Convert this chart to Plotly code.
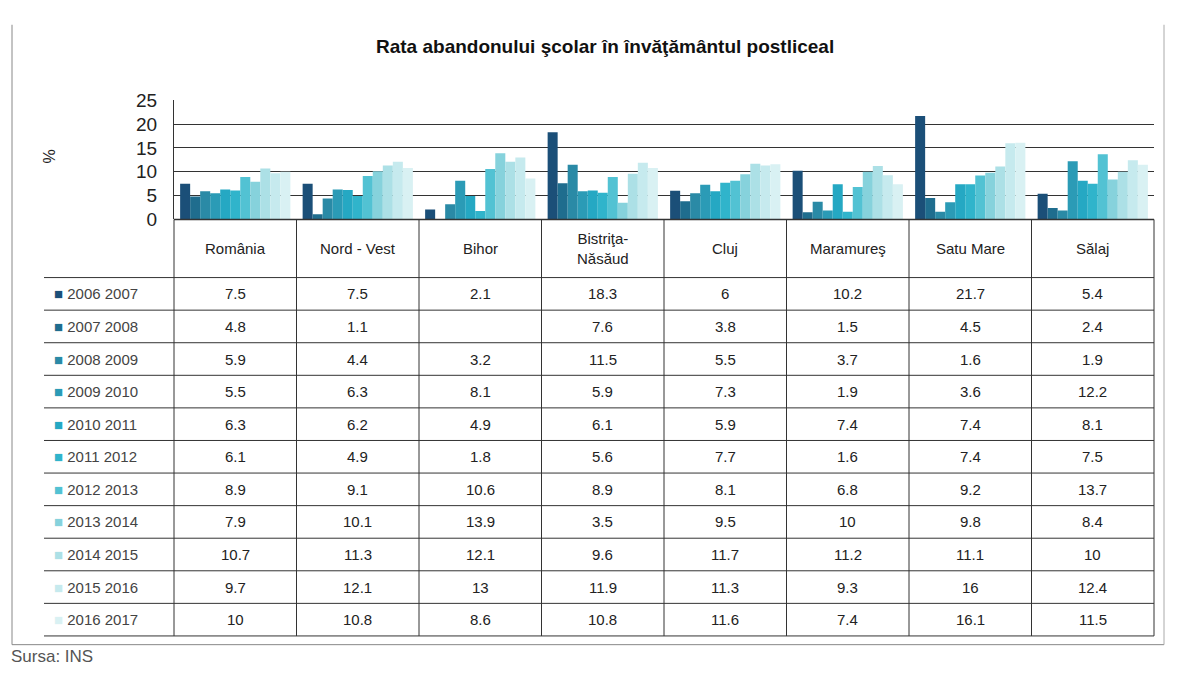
import plotly.graph_objects as go

categories = ["România", "Nord - Vest", "Bihor", "Bistriţa-<br>Năsăud", "Cluj",
              "Maramureş", "Satu Mare", "Sălaj"]
series_names = ["2006 2007", "2007 2008", "2008 2009", "2009 2010", "2010 2011",
                "2011 2012", "2012 2013", "2013 2014", "2014 2015", "2015 2016", "2016 2017"]
values = [
    [7.5, 7.5, 2.1, 18.3, 6, 10.2, 21.7, 5.4],
    [4.8, 1.1, None, 7.6, 3.8, 1.5, 4.5, 2.4],
    [5.9, 4.4, 3.2, 11.5, 5.5, 3.7, 1.6, 1.9],
    [5.5, 6.3, 8.1, 5.9, 7.3, 1.9, 3.6, 12.2],
    [6.3, 6.2, 4.9, 6.1, 5.9, 7.4, 7.4, 8.1],
    [6.1, 4.9, 1.8, 5.6, 7.7, 1.6, 7.4, 7.5],
    [8.9, 9.1, 10.6, 8.9, 8.1, 6.8, 9.2, 13.7],
    [7.9, 10.1, 13.9, 3.5, 9.5, 10, 9.8, 8.4],
    [10.7, 11.3, 12.1, 9.6, 11.7, 11.2, 11.1, 10],
    [9.7, 12.1, 13, 11.9, 11.3, 9.3, 16, 12.4],
    [10, 10.8, 8.6, 10.8, 11.6, 7.4, 16.1, 11.5],
]
colors = ["#1b4f78", "#1f6d8e", "#2a8aa6", "#2b9bb6", "#25a8c3", "#30b4cb",
          "#52c2d3", "#86d2dc", "#ace0e6", "#c6eaee", "#d9f1f3"]
y_ticks = [0, 5, 10, 15, 20, 25]

# The page adds an 8px body margin; size the figure so it fits the window exactly.
OFF = 8
W, H = 1178 - 2 * OFF, 684 - 2 * OFF

# layout geometry in window pixels
PLOT_L, PLOT_R = 174, 1154
PLOT_T, PLOT_B = 93, 216
ROW_T, ROW_B = 276, 646
LABEL_L = 44


def px(x):
    return (x - OFF) / W


def py(y):
    return 1 - (y - OFF) / H


fig = go.Figure()
xs = list(range(len(categories)))
for name, vals, col in zip(series_names, values, colors):
    fig.add_trace(go.Bar(x=xs, y=vals, name=name, marker=dict(color=col, line=dict(width=0))))

fig.update_layout(
    width=W, height=H,
    margin=dict(l=0, r=0, t=0, b=0),
    paper_bgcolor="white", plot_bgcolor="white",
    barmode="group", bargap=0.1, bargroupgap=0,
    showlegend=False,
    font=dict(family="Liberation Sans, Arial", color="#222"),
    xaxis=dict(domain=[px(PLOT_L), px(PLOT_R)], range=[-0.5, len(categories) - 0.5],
               showticklabels=False, showgrid=False, zeroline=False,
               showline=False, ticks=""),
    yaxis=dict(domain=[py(PLOT_B), py(PLOT_T)], range=[0, 25], tickvals=y_ticks,
               showgrid=True, gridcolor="#333", gridwidth=1, zeroline=False,
               showline=True, linecolor="#333", linewidth=1,
               tickfont=dict(size=19, color="#222"), ticks="", ticklabelstandoff=12),
)

ann = []
shapes = []


def text(t, x, y, size, color="#222", xanchor="center", angle=0):
    ann.append(dict(text=t, x=px(x), y=py(y), xref="paper", yref="paper", showarrow=False,
                    xanchor=xanchor, yanchor="middle", textangle=angle,
                    font=dict(size=size, color=color)))


def line(x0, y0, x1, y1, color="#333", width=1):
    shapes.append(dict(type="line", xref="paper", yref="paper", x0=px(x0), x1=px(x1),
                       y0=py(y0), y1=py(y1), line=dict(color=color, width=width)))


text("<b>Rata abandonului şcolar în învăţământul postliceal</b>", 605, 37, 19, "#111")
text("%", 50, 151, 16, angle=-90)
text("Sursa: INS", 9, 667, 17, "#555", xanchor="left")

ncat = len(categories)
colw = (PLOT_R - PLOT_L) / ncat
nrows = len(series_names)
row_h = (ROW_B - ROW_T) / nrows

# category headers
for i, c in enumerate(categories):
    cx = PLOT_L + (i + 0.5) * colw
    text(c, cx, 246, 15)

# vertical lines
for i in range(ncat + 1):
    xx = PLOT_L + i * colw
    line(xx, PLOT_B, xx, ROW_B)
line(PLOT_L, PLOT_B, PLOT_R, PLOT_B, width=1.5)
# row lines
for r in range(nrows + 1):
    yy = ROW_T + r * row_h
    line(LABEL_L, yy, PLOT_R, yy)

# row labels and values
for r, (name, vals, col) in enumerate(zip(series_names, values, colors)):
    cy = ROW_T + (r + 0.5) * row_h
    text(f"<span style='color:{col}'>■</span> {name}", 52, cy, 15, "#444", xanchor="left")
    for i, v in enumerate(vals):
        if v is None:
            continue
        cx = PLOT_L + (i + 0.5) * colw
        text(f"{v:g}", cx, cy, 15)

# outer frame
line(12, 15, 12, 655, color="#888")
line(12, 655, 1164, 655, color="#888")
line(1164, 15, 1164, 655, color="#aaa")

fig.update_layout(annotations=ann, shapes=shapes)
fig.write_html("out.html")
